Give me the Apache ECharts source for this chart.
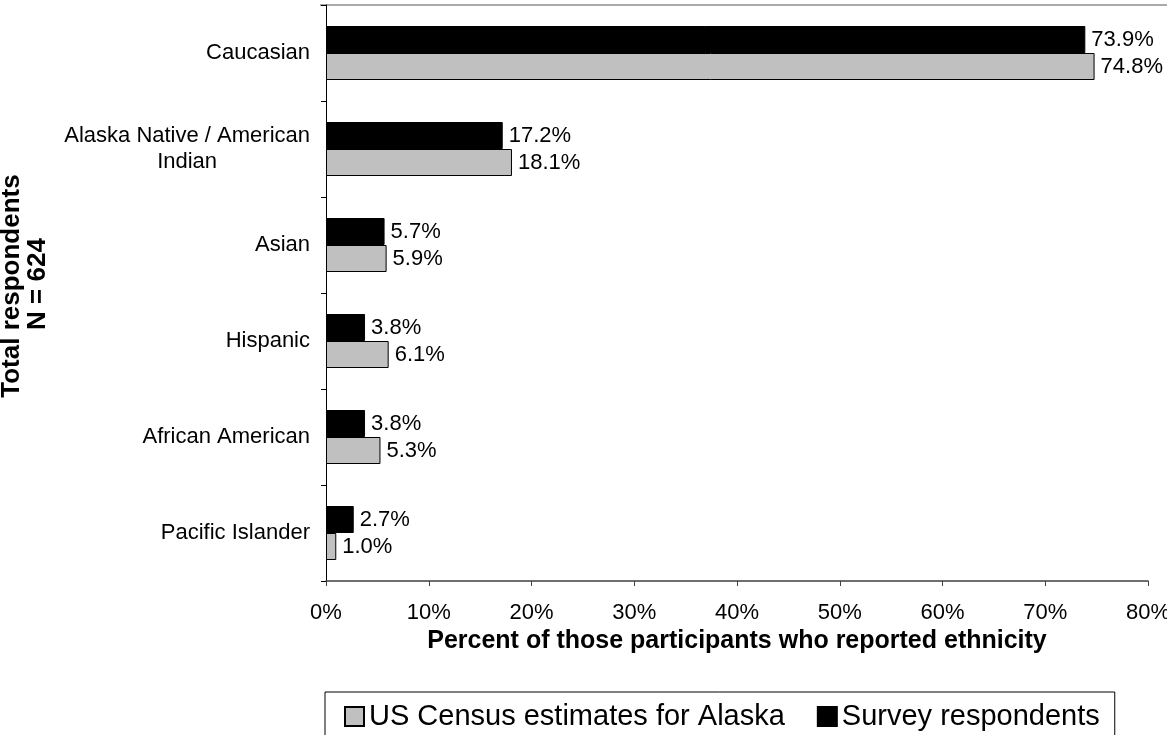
<!DOCTYPE html>
<html>
<head>
<meta charset="utf-8">
<script src="https://cdn.jsdelivr.net/npm/echarts@6/dist/echarts.min.js"></script>
<style>
html,body{margin:0;padding:0;background:#fff;}
#chart{width:1167px;height:735px;}
</style>
</head>
<body>
<div id="chart"></div>
<script>
// Categories listed bottom-to-top (as the value axis grows upward)
var categories = ['Pacific Islander', 'African American', 'Hispanic', 'Asian', 'Alaska Native / American\nIndian', 'Caucasian'];
var censusName = 'US Census estimates for Alaska';
var surveyName = 'Survey respondents';
var censusValues = [1.0, 5.3, 6.1, 5.9, 18.1, 74.8];
var surveyValues = [2.7, 3.8, 3.8, 5.7, 17.2, 73.9];
var xTicks = { min: 0, max: 80, interval: 10 };
var xTitle = 'Percent of those participants who reported ethnicity';
var yTitle = 'Total respondents';
var ySubTitle = 'N = 624';

var FONT = '"Liberation Sans", Arial, sans-serif';
var chart = echarts.init(document.getElementById('chart'), null, { renderer: 'canvas' });

var labelStyle = {
  show: true, position: 'right', distance: 6,
  fontFamily: FONT, fontSize: 22, color: '#000',
  formatter: function (p) { return p.value.toFixed(1) + '%'; }
};

var option = {
  backgroundColor: '#fff',
  animation: false,
  textStyle: { fontFamily: FONT },
  grid: { left: 326, right: 19, top: 5, bottom: 154, containLabel: false, outerBoundsMode: 'none' },
  xAxis: {
    type: 'value', min: xTicks.min, max: xTicks.max, interval: xTicks.interval,
    name: xTitle, nameLocation: 'middle', nameGap: 20,
    nameTextStyle: { fontFamily: FONT, fontSize: 25, fontWeight: 'bold', color: '#000' },
    axisLine: { show: true, lineStyle: { color: '#404040', width: 1.5 } },
    axisTick: { show: true, inside: false, length: 5, lineStyle: { color: '#404040', width: 1 } },
    axisLabel: { fontFamily: FONT, fontSize: 22, color: '#000', margin: 21, formatter: '{value}%', hideOverlap: false },
    splitLine: { show: false }
  },
  yAxis: {
    type: 'category', data: categories,
    axisLine: { show: true, lineStyle: { color: '#000', width: 1 } },
    axisTick: { show: true, inside: false, length: 5, alignWithLabel: false, lineStyle: { color: '#000', width: 1 } },
    axisLabel: {
      fontFamily: FONT, fontSize: 22, color: '#000', margin: 16,
      formatter: function (v) {
        return v.split('\n').map(function (s) { return '{c|' + s + '}'; }).join('\n');
      },
      rich: { c: { align: 'center', fontFamily: FONT, fontSize: 22, color: '#000', lineHeight: 26 } }
    },
    splitLine: { show: false }
  },
  legend: {
    left: 325, top: 692,
    padding: [10, 15, 60, 19],
    borderColor: '#000', borderWidth: 1,
    itemWidth: 19, itemHeight: 19, itemGap: 32,
    icon: 'rect',
    data: [censusName, surveyName],
    textStyle: { fontFamily: FONT, fontSize: 29, color: '#000' }
  },
  graphic: [
    { type: 'line', shape: { x1: 320, y1: 5, x2: 1167, y2: 5 }, style: { stroke: '#8c8c8c', lineWidth: 1.5 } },
    { type: 'text', x: 12, y: 286, rotation: Math.PI / 2,
      style: { text: yTitle, fontFamily: FONT, fontSize: 26, fontWeight: 'bold', fill: '#000', textAlign: 'center', textVerticalAlign: 'middle' } },
    { type: 'text', x: 38, y: 284, rotation: Math.PI / 2,
      style: { text: ySubTitle, fontFamily: FONT, fontSize: 26, fontWeight: 'bold', fill: '#000', textAlign: 'center', textVerticalAlign: 'middle' } }
  ],
  series: [
    {
      name: surveyName, type: 'bar', data: surveyValues,
      barWidth: 27, barGap: '0%',
      itemStyle: { color: '#000', borderColor: '#000', borderWidth: 1 },
      label: labelStyle
    },
    {
      name: censusName, type: 'bar', data: censusValues,
      barWidth: 27, barGap: '0%',
      itemStyle: { color: '#c0c0c0', borderColor: '#000', borderWidth: 1 },
      label: labelStyle
    }
  ]
};
chart.setOption(option);
</script>
</body>
</html>
